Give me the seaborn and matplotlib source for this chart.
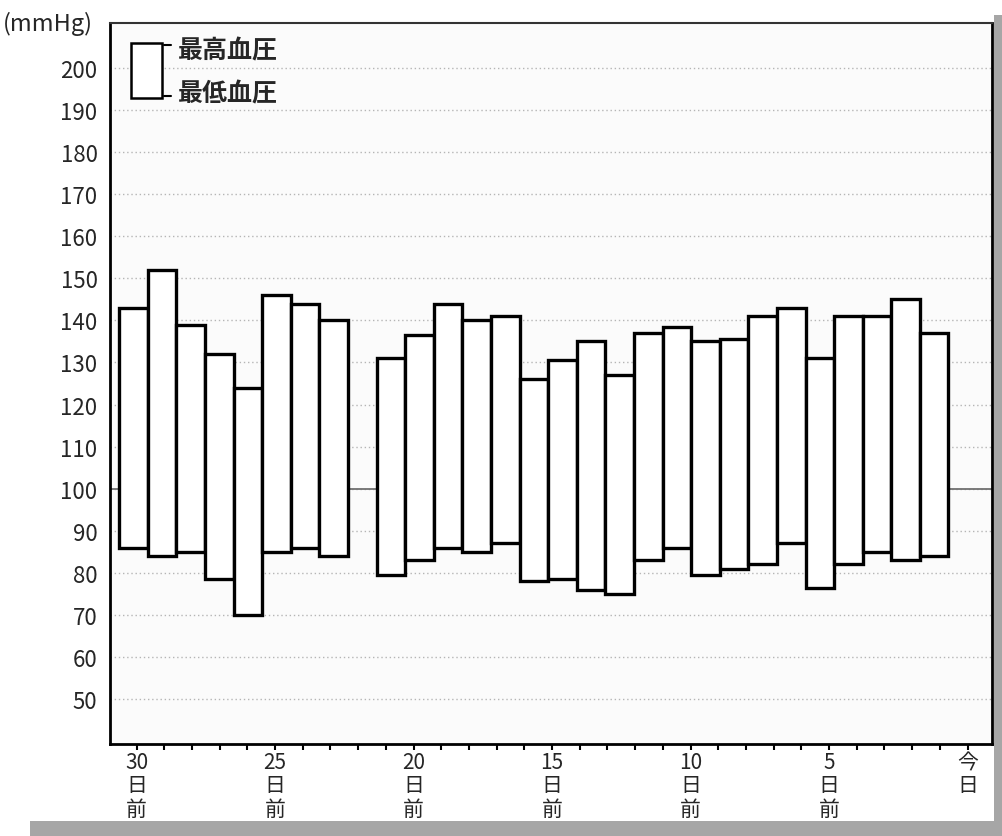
import matplotlib
matplotlib.use("Agg")
import matplotlib.pyplot as plt
import pandas as pd
import seaborn as sns
from matplotlib.patches import Rectangle

# 日ごとの血圧 (何日前か, 最高, 最低)
days_ago = [30, 29, 28, 27, 26, 25, 24, 23,
            21, 20, 19, 18, 17, 16, 15, 14, 13, 12,
            11, 10, 9, 8, 7, 6, 5, 4, 3, 2]
systolic = [143, 152, 139, 132, 124, 146, 144, 140,
            131, 136.5, 144, 140, 141, 126, 130.5, 135, 127, 137,
            138.5, 135, 135.5, 141, 143, 131, 141, 141, 145, 137]
diastolic = [86, 84, 85, 78.5, 70, 85, 86, 84,
             79.5, 83, 86, 85, 87, 78, 78.5, 76, 75, 83,
             86, 79.5, 81, 82, 87, 76.5, 82, 85, 83, 84]

slots = list(range(30, 0, -1))
tick_days = [30, 25, 20, 15, 10, 5, 0]
tick_labels = ["30\n日\n前", "25\n日\n前", "20\n日\n前", "15\n日\n前",
               "10\n日\n前", "5\n日\n前", "今\n日"]
y_ticks = list(range(50, 201, 10))

df = pd.DataFrame({"day": days_ago, "high": systolic, "low": diastolic})
df["span"] = df["high"] - df["low"]

sns.set_theme(style="white")
plt.rcParams["font.family"] = ["Noto Sans CJK JP", "DejaVu Sans"]

fig = plt.figure(figsize=(10.03, 8.37), dpi=100)
fig.patch.set_facecolor("white")
ax = fig.add_axes([0.1097, 0.1099, 0.8793, 0.8614])
ax.set_facecolor("#fbfbfb")

# 100 の基準線
ax.axhline(100, color="#707070", lw=1.3, zorder=1)

sns.barplot(data=df, x="day", y="span", order=slots, bottom=df["low"].values,
            color="white", edgecolor="black", linewidth=2.4, width=1.0,
            errorbar=None, ax=ax, zorder=3)

ax.set_ylim(39.3, 210.7)
ax.set_xlim(-0.82, 30.02)
ax.set_yticks(y_ticks)
ax.set_yticklabels([str(v) for v in y_ticks], fontsize=16)
ax.yaxis.grid(True, color="#b5b5b5", linestyle=(0, (1, 2)), lw=1)
ax.set_axisbelow(True)
ax.tick_params(axis="y", length=0, pad=9)

# 目盛り位置 (日数 -> 棒の位置)
tick_pos = [(30 - d) * 0.9685 + 0.11 for d in tick_days]
minor_pos = [(30 - d) * 0.9685 + 0.11 for d in range(31)]
ax.set_xticks(minor_pos, minor=True)
ax.set_xticks(tick_pos)
ax.set_xticklabels(tick_labels, fontsize=15, linespacing=1.08, va="top")
ax.tick_params(axis="x", which="both", direction="out", length=4, width=1.5,
               color="black", pad=1, bottom=True)
ax.set_xlabel("")
ax.set_ylabel("")

for side in ["left", "bottom", "right"]:
    ax.spines[side].set_visible(True)
    ax.spines[side].set_color("black")
    ax.spines[side].set_linewidth(2)
ax.spines["top"].set_visible(True)
ax.spines["top"].set_color("#333333")
ax.spines["top"].set_linewidth(1.5)

# 凡例
ax.add_patch(Rectangle((0.0238, 0.896), 0.035, 0.0763, transform=ax.transAxes,
                       facecolor="white", edgecolor="black", lw=1.8, zorder=5))
ax.plot([0.061, 0.069], [0.9695, 0.9695], transform=ax.transAxes, color="black", lw=1.5, zorder=5)
ax.plot([0.061, 0.069], [0.8988, 0.8988], transform=ax.transAxes, color="black", lw=1.5, zorder=5)
ax.text(0.077, 0.962, "最高血圧", transform=ax.transAxes, fontsize=18,
        fontweight="bold", va="center", ha="left", zorder=5)
ax.text(0.077, 0.902, "最低血圧", transform=ax.transAxes, fontsize=18,
        fontweight="bold", va="center", ha="left", zorder=5)

fig.text(0.003, 0.971, "(mmHg)", fontsize=17, va="center", ha="left")

# 外枠の灰色
fig.patches.append(Rectangle((0.03, 0), 0.97, 15 / 837, transform=fig.transFigure,
                             facecolor="#a6a6a6", edgecolor="none"))
fig.patches.append(Rectangle((994 / 1003, 0), 9 / 1003, 821 / 837, transform=fig.transFigure,
                             facecolor="#a6a6a6", edgecolor="none"))

fig.savefig("out.png", dpi=100)
